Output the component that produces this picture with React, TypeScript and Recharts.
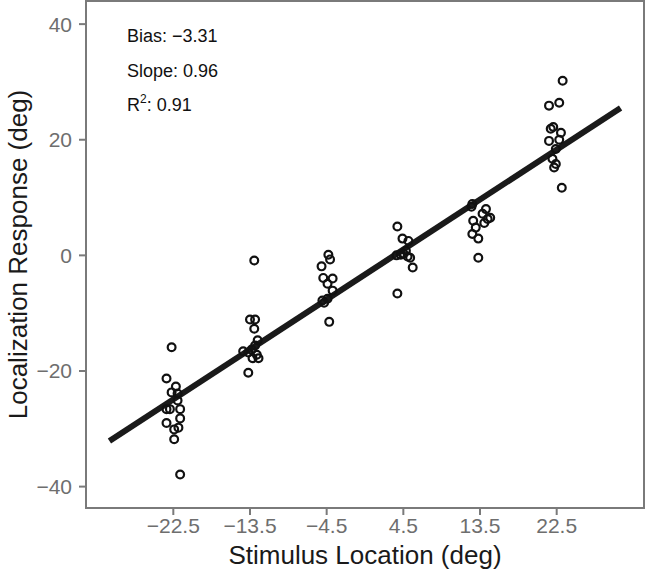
import React from 'react';
import { ScatterChart, Scatter, XAxis, YAxis, ReferenceLine, ReferenceArea } from 'recharts';

// stimulus locations (tick labels) and axis ticks
const locations = [-22.5, -13.5, -4.5, 4.5, 13.5, 22.5];
const yTicks = [-40, -20, 0, 20, 40];

// jittered stimulus x and responses, per location
const x225n = [-22.7, -23.3, -22.2, -22.7, -22.0, -22.0, -23.3, -22.9, -21.7, -21.7, -23.3, -22.4, -21.9, -22.4, -21.7];
const y225n = [-15.9, -21.3, -22.7, -23.7, -23.9, -25.1, -26.6, -26.6, -26.6, -28.2, -29.0, -30.1, -29.8, -31.8, -37.9];

const x135n = [-13.0, -13.5, -12.9, -13.0, -12.6, -12.9, -14.3, -13.7, -13.2, -12.5, -13.7, -13.3, -12.7];
const y135n = [-0.9, -11.1, -11.1, -12.7, -14.7, -15.6, -16.6, -16.8, -17.8, -17.8, -20.3, -16.3, -17.2];

const x45n = [-4.3, -4.1, -5.1, -4.9, -3.8, -4.4, -3.8, -5.0, -4.4, -4.2, -4.8];
const y45n = [0.1, -0.7, -1.9, -3.9, -4.0, -4.9, -6.1, -7.8, -7.5, -11.5, -8.2];

const x45p = [3.8, 4.4, 5.1, 4.8, 4.2, 4.5, 5.0, 5.3, 3.7, 5.6, 3.8];
const y45p = [5.0, 2.9, 2.5, 0.8, 0.1, 0.3, -0.2, -0.4, 0.0, -2.1, -6.6];

const x135p = [12.6, 14.2, 13.8, 14.4, 14.7, 14.0, 12.7, 13.0, 12.6, 13.3, 13.3, 12.5];
const y135p = [8.9, 8.0, 7.2, 6.3, 6.5, 5.6, 6.0, 4.8, 3.7, 2.9, -0.4, 8.4];

const x225p = [23.2, 21.6, 22.8, 21.8, 22.1, 23.0, 21.6, 22.8, 22.4, 22.0, 22.4, 22.2, 23.1];
const y225p = [30.2, 25.9, 26.4, 21.9, 22.2, 21.2, 19.8, 20.0, 18.4, 16.7, 15.8, 15.2, 11.7];

// fitted line
const bias = -3.31;
const slope = 0.96;
const r2 = 0.91;
const fitRange = [-30, 30];

const xDomain = [-32.75, 32.75];
const yDomain = [-43.7, 44];

const clusters = [
  [x225n, y225n],
  [x135n, y135n],
  [x45n, y45n],
  [x45p, y45p],
  [x135p, y135p],
  [x225p, y225p],
];

const points = clusters.flatMap(([xs, ys]) => xs.map((x, i) => ({ x, y: ys[i] })));

const font = '"Liberation Sans", Arial, sans-serif';
const gray = '#7a7a7a';
const minus = (v: number) => String(v).replace('-', '\u2212');

const OpenCircle = (props: any) => (
  <circle cx={props.cx} cy={props.cy} r={3.9} fill="none" stroke="#111" strokeWidth={2.2} />
);

const App: React.FC = () => {
  return (
    <div style={{ position: 'relative', width: 646, height: 577, fontFamily: font }}>
      <style>{`body{margin:0}`}</style>
      <ScatterChart width={646} height={577} margin={{ top: 1, right: 2, bottom: 0, left: 0 }}>
        <XAxis
          type="number"
          dataKey="x"
          domain={xDomain}
          ticks={locations}
          tickFormatter={minus}
          height={69}
          tickSize={7}
          tickMargin={3}
          axisLine={false}
          tickLine={{ stroke: gray, strokeWidth: 2 }}
          tick={{ fill: '#6e6e6e', fontSize: 21, fontFamily: font }}
          allowDataOverflow
          label={{ value: 'Stimulus Location (deg)', position: 'insideBottom', offset: 13, fontSize: 26, fill: '#1a1a1a', fontFamily: font }}
        />
        <YAxis
          type="number"
          dataKey="y"
          domain={yDomain}
          ticks={yTicks}
          tickFormatter={minus}
          width={86}
          tickSize={7}
          tickMargin={7}
          axisLine={false}
          tickLine={{ stroke: gray, strokeWidth: 2 }}
          tick={{ fill: '#6e6e6e', fontSize: 21, fontFamily: font }}
          allowDataOverflow
          label={{ value: 'Localization Response (deg)', angle: -90, position: 'insideLeft', offset: 18, fontSize: 26, fill: '#1a1a1a', fontFamily: font, style: { textAnchor: 'middle' } }}
        />
        <ReferenceArea
          x1={xDomain[0]}
          x2={xDomain[1]}
          y1={yDomain[0]}
          y2={yDomain[1]}
          fill="none"
          stroke={gray}
          strokeWidth={2}
          ifOverflow="visible"
        />
        <Scatter data={points} shape={OpenCircle} isAnimationActive={false} />
        <ReferenceLine
          segment={[
            { x: fitRange[0], y: bias + slope * fitRange[0] },
            { x: fitRange[1], y: bias + slope * fitRange[1] },
          ]}
          stroke="#1a1a1a"
          strokeWidth={6}
          ifOverflow="visible"
        />
      </ScatterChart>
      <svg
        width={646}
        height={577}
        style={{ position: 'absolute', left: 0, top: 0, pointerEvents: 'none' }}
        fontFamily={font}
        fontSize={18}
        fill="#111"
      >
        <text x={127} y={42}>Bias: {'\u2212'}{Math.abs(bias).toFixed(2)}</text>
        <text x={127} y={77}>Slope: {slope.toFixed(2)}</text>
        <text x={127} y={111}>
          R<tspan fontSize={12} dy={-8}>2</tspan>
          <tspan dy={8}>: {r2.toFixed(2)}</tspan>
        </text>
      </svg>
    </div>
  );
};

export default App;
